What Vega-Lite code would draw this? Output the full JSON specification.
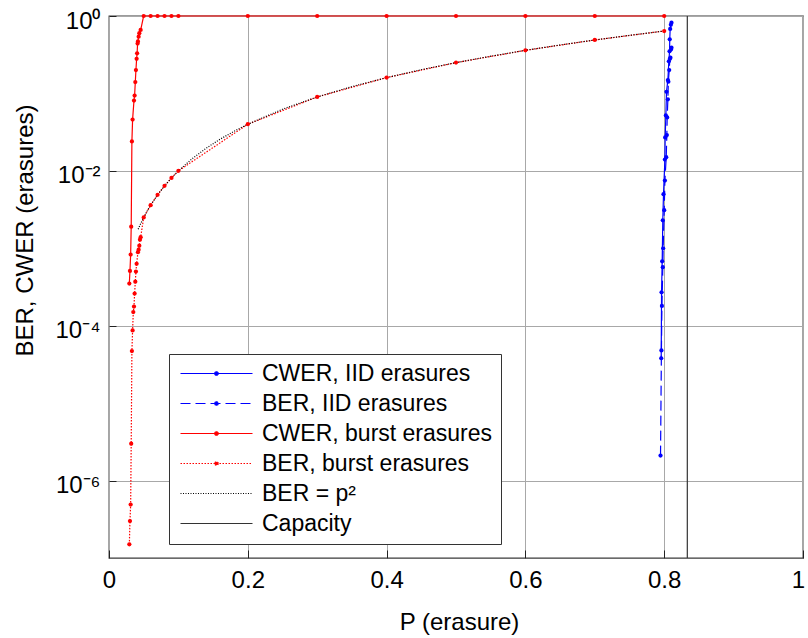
{
  "$schema": "https://vega.github.io/schema/vega-lite/v6.json",
  "autosize": "none",
  "width": 694,
  "height": 542,
  "padding": {"left": 109, "top": 16, "right": 5, "bottom": 80},
  "background": "white",
  "config": {
    "font": "Liberation Sans",
    "view": {"stroke": "#3a3a3a", "strokeWidth": 1.3}
  },
  "data": {
    "values": [
      {"s": "CWER, IID erasures", "p": 0.7957, "v": 3.8e-5},
      {"s": "CWER, IID erasures", "p": 0.7962, "v": 2.7e-4},
      {"s": "CWER, IID erasures", "p": 0.7971, "v": 6.8e-4},
      {"s": "CWER, IID erasures", "p": 0.7980, "v": 0.0023},
      {"s": "CWER, IID erasures", "p": 0.7990, "v": 0.005},
      {"s": "CWER, IID erasures", "p": 0.8010, "v": 0.014},
      {"s": "CWER, IID erasures", "p": 0.8014, "v": 0.027},
      {"s": "CWER, IID erasures", "p": 0.8024, "v": 0.052},
      {"s": "CWER, IID erasures", "p": 0.8033, "v": 0.105},
      {"s": "CWER, IID erasures", "p": 0.8053, "v": 0.149},
      {"s": "CWER, IID erasures", "p": 0.8067, "v": 0.26},
      {"s": "CWER, IID erasures", "p": 0.8077, "v": 0.35},
      {"s": "CWER, IID erasures", "p": 0.8080, "v": 0.50},
      {"s": "CWER, IID erasures", "p": 0.8086, "v": 0.68},
      {"s": "CWER, IID erasures", "p": 0.8096, "v": 0.77},
      {"s": "CWER, IID erasures", "p": 0.8105, "v": 0.82},
      {"s": "BER, IID erasures", "p": 0.7947, "v": 2.1e-6},
      {"s": "BER, IID erasures", "p": 0.7960, "v": 4.8e-5},
      {"s": "BER, IID erasures", "p": 0.7967, "v": 1.8e-4},
      {"s": "BER, IID erasures", "p": 0.7980, "v": 5.7e-4},
      {"s": "BER, IID erasures", "p": 0.7985, "v": 0.001},
      {"s": "BER, IID erasures", "p": 0.8000, "v": 0.0031},
      {"s": "BER, IID erasures", "p": 0.8010, "v": 0.0075},
      {"s": "BER, IID erasures", "p": 0.8029, "v": 0.015},
      {"s": "BER, IID erasures", "p": 0.8038, "v": 0.029},
      {"s": "BER, IID erasures", "p": 0.8043, "v": 0.049},
      {"s": "BER, IID erasures", "p": 0.8053, "v": 0.084},
      {"s": "BER, IID erasures", "p": 0.8060, "v": 0.142},
      {"s": "BER, IID erasures", "p": 0.8072, "v": 0.20},
      {"s": "BER, IID erasures", "p": 0.8082, "v": 0.28},
      {"s": "BER, IID erasures", "p": 0.8090, "v": 0.29},
      {"s": "BER, IID erasures", "p": 0.8098, "v": 0.37},
      {"s": "BER, IID erasures", "p": 0.8105, "v": 0.39},
      {"s": "CWER, burst erasures", "p": 0.0293, "v": 3.5e-4},
      {"s": "CWER, burst erasures", "p": 0.0302, "v": 5.1e-4},
      {"s": "CWER, burst erasures", "p": 0.0312, "v": 8.3e-4},
      {"s": "CWER, burst erasures", "p": 0.0320, "v": 0.0019},
      {"s": "CWER, burst erasures", "p": 0.0330, "v": 0.024},
      {"s": "CWER, burst erasures", "p": 0.0340, "v": 0.046},
      {"s": "CWER, burst erasures", "p": 0.0360, "v": 0.081},
      {"s": "CWER, burst erasures", "p": 0.0369, "v": 0.094},
      {"s": "CWER, burst erasures", "p": 0.0379, "v": 0.14},
      {"s": "CWER, burst erasures", "p": 0.0388, "v": 0.20},
      {"s": "CWER, burst erasures", "p": 0.0398, "v": 0.28},
      {"s": "CWER, burst erasures", "p": 0.0405, "v": 0.33},
      {"s": "CWER, burst erasures", "p": 0.0412, "v": 0.44},
      {"s": "CWER, burst erasures", "p": 0.0417, "v": 0.47},
      {"s": "CWER, burst erasures", "p": 0.0427, "v": 0.54},
      {"s": "CWER, burst erasures", "p": 0.0437, "v": 0.60},
      {"s": "CWER, burst erasures", "p": 0.0456, "v": 0.66},
      {"s": "CWER, burst erasures", "p": 0.05, "v": 1},
      {"s": "CWER, burst erasures", "p": 0.06, "v": 1},
      {"s": "CWER, burst erasures", "p": 0.07, "v": 1},
      {"s": "CWER, burst erasures", "p": 0.08, "v": 1},
      {"s": "CWER, burst erasures", "p": 0.09, "v": 1},
      {"s": "CWER, burst erasures", "p": 0.1, "v": 1},
      {"s": "CWER, burst erasures", "p": 0.2, "v": 1},
      {"s": "CWER, burst erasures", "p": 0.3, "v": 1},
      {"s": "CWER, burst erasures", "p": 0.4, "v": 1},
      {"s": "CWER, burst erasures", "p": 0.5, "v": 1},
      {"s": "CWER, burst erasures", "p": 0.6, "v": 1},
      {"s": "CWER, burst erasures", "p": 0.7, "v": 1},
      {"s": "CWER, burst erasures", "p": 0.8, "v": 1},
      {"s": "BER, burst erasures", "p": 0.0293, "v": 1.5e-7},
      {"s": "BER, burst erasures", "p": 0.0302, "v": 3.0e-7},
      {"s": "BER, burst erasures", "p": 0.0312, "v": 4.9e-7},
      {"s": "BER, burst erasures", "p": 0.0320, "v": 3.0e-6},
      {"s": "BER, burst erasures", "p": 0.0330, "v": 4.7e-5},
      {"s": "BER, burst erasures", "p": 0.0340, "v": 8.7e-5},
      {"s": "BER, burst erasures", "p": 0.0350, "v": 1.5e-4},
      {"s": "BER, burst erasures", "p": 0.0360, "v": 1.77e-4},
      {"s": "BER, burst erasures", "p": 0.0369, "v": 2.6e-4},
      {"s": "BER, burst erasures", "p": 0.0379, "v": 3.7e-4},
      {"s": "BER, burst erasures", "p": 0.0388, "v": 5.0e-4},
      {"s": "BER, burst erasures", "p": 0.0398, "v": 6.3e-4},
      {"s": "BER, burst erasures", "p": 0.0417, "v": 8.9e-4},
      {"s": "BER, burst erasures", "p": 0.0427, "v": 9.6e-4},
      {"s": "BER, burst erasures", "p": 0.0437, "v": 0.00108},
      {"s": "BER, burst erasures", "p": 0.0446, "v": 0.00129},
      {"s": "BER, burst erasures", "p": 0.0456, "v": 0.00139},
      {"s": "BER, burst erasures", "p": 0.05, "v": 0.0025},
      {"s": "BER, burst erasures", "p": 0.06, "v": 0.0036},
      {"s": "BER, burst erasures", "p": 0.07, "v": 0.0049},
      {"s": "BER, burst erasures", "p": 0.08, "v": 0.0064},
      {"s": "BER, burst erasures", "p": 0.09, "v": 0.0081},
      {"s": "BER, burst erasures", "p": 0.1, "v": 0.01},
      {"s": "BER, burst erasures", "p": 0.2, "v": 0.04},
      {"s": "BER, burst erasures", "p": 0.3, "v": 0.09},
      {"s": "BER, burst erasures", "p": 0.4, "v": 0.16},
      {"s": "BER, burst erasures", "p": 0.5, "v": 0.25},
      {"s": "BER, burst erasures", "p": 0.6, "v": 0.36},
      {"s": "BER, burst erasures", "p": 0.7, "v": 0.49},
      {"s": "BER, burst erasures", "p": 0.8, "v": 0.64},
      {"s": "BER = p²", "p": 0.042, "v": 0.001764},
      {"s": "BER = p²", "p": 0.045, "v": 0.002025},
      {"s": "BER = p²", "p": 0.05, "v": 0.0025},
      {"s": "BER = p²", "p": 0.055, "v": 0.003025},
      {"s": "BER = p²", "p": 0.06, "v": 0.0036},
      {"s": "BER = p²", "p": 0.07, "v": 0.0049},
      {"s": "BER = p²", "p": 0.08, "v": 0.0064},
      {"s": "BER = p²", "p": 0.09, "v": 0.0081},
      {"s": "BER = p²", "p": 0.1, "v": 0.01},
      {"s": "BER = p²", "p": 0.12, "v": 0.0144},
      {"s": "BER = p²", "p": 0.14, "v": 0.0196},
      {"s": "BER = p²", "p": 0.16, "v": 0.0256},
      {"s": "BER = p²", "p": 0.18, "v": 0.0324},
      {"s": "BER = p²", "p": 0.2, "v": 0.04},
      {"s": "BER = p²", "p": 0.25, "v": 0.0625},
      {"s": "BER = p²", "p": 0.3, "v": 0.09},
      {"s": "BER = p²", "p": 0.35, "v": 0.1225},
      {"s": "BER = p²", "p": 0.4, "v": 0.16},
      {"s": "BER = p²", "p": 0.45, "v": 0.2025},
      {"s": "BER = p²", "p": 0.5, "v": 0.25},
      {"s": "BER = p²", "p": 0.55, "v": 0.3025},
      {"s": "BER = p²", "p": 0.6, "v": 0.36},
      {"s": "BER = p²", "p": 0.65, "v": 0.4225},
      {"s": "BER = p²", "p": 0.7, "v": 0.49},
      {"s": "BER = p²", "p": 0.75, "v": 0.5625},
      {"s": "BER = p²", "p": 0.8, "v": 0.64},
      {"s": "Capacity", "p": 0.8333, "v": 1e-7},
      {"s": "Capacity", "p": 0.8333, "v": 1}
    ]
  },
  "encoding": {
    "x": {
      "field": "p", "type": "quantitative",
      "scale": {"domain": [0, 1], "nice": false, "zero": false},
      "axis": {
        "title": "P (erasure)", "values": [0, 0.2, 0.4, 0.6, 0.8, 1],
        "format": "~g", "labelFontSize": 24, "labelColor": "#000", "labelPadding": 18,
        "labelOffset": {"condition": {"test": "datum.value === 1", "value": -5}, "value": 0},
        "tickSize": -8, "tickColor": "#222", "domain": false,
        "grid": true, "gridColor": "#a8a8a8", "gridWidth": 1,
        "labelFlush": false, "labelOverlap": false,
        "titleFontSize": 24, "titleFontWeight": "normal", "titleColor": "#000",
        "titleX": 350, "titleY": 71, "titleBaseline": "alphabetic", "titleAlign": "center"
      }
    },
    "y": {
      "field": "v", "type": "quantitative",
      "scale": {"type": "log", "domain": [1e-7, 1], "nice": false},
      "axis": {
        "title": "BER, CWER (erasures)", "values": [1e-6, 1e-4, 1e-2, 1],
        "labelExpr": "datum.value >= 0.5 ? '10⁰' : datum.value >= 0.005 ? '10⁻²' : datum.value >= 0.00005 ? '10⁻⁴' : '10⁻⁶'",
        "labelFontSize": 24, "labelColor": "#000", "labelPadding": 16, "labelOffset": 5,
        "tickSize": -7, "tickColor": "#222", "domain": false,
        "grid": true, "gridColor": "#a8a8a8", "gridWidth": 1,
        "labelFlush": false, "labelOverlap": false,
        "titleFontSize": 24, "titleFontWeight": "normal", "titleColor": "#000",
        "titleX": -84, "titleY": 214, "titleBaseline": "middle", "titleAlign": "center", "titleAngle": -90
      }
    }
  },
  "layer": [
    {
      "mark": {"type": "line", "strokeWidth": 1.2},
      "encoding": {
        "color": {
          "field": "s", "type": "nominal",
          "scale": {
            "domain": ["CWER, IID erasures", "BER, IID erasures", "CWER, burst erasures", "BER, burst erasures", "BER = p²", "Capacity"],
            "range": ["#0000ff", "#0000ff", "#ff0000", "#ff0000", "#000000", "#333333"]
          },
          "legend": {
            "title": null, "orient": "none", "legendX": 60, "legendY": 338,
            "labelFontSize": 23, "labelColor": "#000", "labelLimit": 400,
            "symbolSize": 256, "symbolStrokeWidth": 1.2, "labelOffset": 62,
            "rowPadding": 6, "padding": 8, "strokeColor": "#333", "fillColor": "#ffffff",
            "encode": {
              "symbols": {
                "update": {
                  "shape": {"signal": "(datum.value === 'BER = p²' || datum.value === 'Capacity') ? 'M-1,0L8,0' : 'M-1,0L8,0M3.72,0A0.22,0.22,0,1,1,3.28,0A0.22,0.22,0,1,1,3.72,0'"},
                  "fill": {"scale": "color", "field": "value"}
                }
              }
            }
          }
        },
        "strokeDash": {
          "field": "s", "type": "nominal",
          "scale": {
            "domain": ["CWER, IID erasures", "BER, IID erasures", "CWER, burst erasures", "BER, burst erasures", "BER = p²", "Capacity"],
            "range": [[1, 0], [10, 5], [1, 0], [1.5, 1.5], [1, 1.5], [1, 0]]
          },
          "legend": {
            "title": null, "orient": "none", "legendX": 60, "legendY": 338,
            "labelFontSize": 23, "labelColor": "#000", "labelLimit": 400,
            "symbolSize": 256, "symbolStrokeWidth": 1.2, "labelOffset": 62,
            "rowPadding": 6, "padding": 8, "strokeColor": "#333", "fillColor": "#ffffff"
          }
        }
      }
    },
    {
      "transform": [{"filter": {"field": "s", "oneOf": ["CWER, IID erasures", "BER, IID erasures", "CWER, burst erasures", "BER, burst erasures"]}}],
      "mark": {"type": "circle", "size": 18, "opacity": 1},
      "encoding": {
        "color": {"field": "s", "type": "nominal", "legend": null}
      }
    }
  ]
}
